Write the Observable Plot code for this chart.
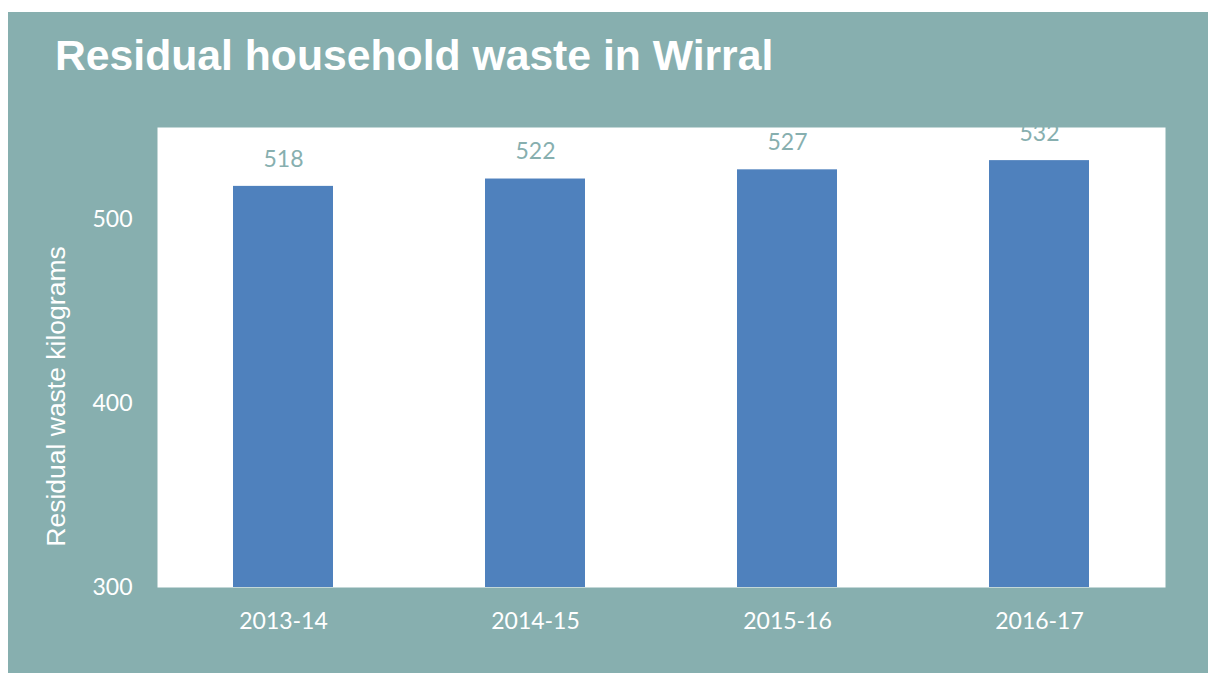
<!DOCTYPE html>
<html>
<head>
<meta charset="utf-8">
<script src="https://cdn.jsdelivr.net/npm/d3@7"></script>
<script src="https://cdn.jsdelivr.net/npm/@observablehq/plot@0.6"></script>
<style>
  html, body { margin: 0; padding: 0; background: #ffffff; }
  #panel { position: absolute; left: 8px; top: 12px; width: 1200px; height: 661px; background: #87afaf; overflow: hidden; }
  #title { position: absolute; left: 47px; top: 22px; font-family: "Liberation Sans", Arial, sans-serif; font-weight: bold; font-size: 42.7px; line-height: 43px; color: #ffffff; white-space: nowrap; }
  #chart { position: absolute; left: 0; top: 88px; }
</style>
</head>
<body>
<div id="panel">
  <div id="title">Residual household waste in Wirral</div>
  <div id="chart"></div>
</div>
<script>
const years = ["2013-14", "2014-15", "2015-16", "2016-17"];
const residualKg = [518, 522, 527, 532];
const yTicks = [300, 400, 500];
const yLabel = "Residual waste kilograms";

const data = years.map((year, i) => ({year, value: residualKg[i]}));

const chart = Plot.plot({
  width: 1200,
  height: 573,
  marginLeft: 149,
  marginRight: 43,
  marginTop: 27,
  marginBottom: 86,
  style: {background: "transparent", color: "#ffffff", fontFamily: "Lato, sans-serif", fontSize: "23px", overflow: "visible"},
  x: {domain: years, paddingInner: 0.603, paddingOuter: 0.3015, label: null},
  y: {domain: [300, 550], label: null},
  marks: [
    Plot.frame({fill: "#ffffff", stroke: null}),
    Plot.barY(data, {x: "year", y1: 300, y2: "value", fill: "#4f81bd"}),
    Plot.text(data, {x: "year", y: "value", text: d => String(d.value), dy: -27, lineAnchor: "middle", fill: "#87afaf", fontSize: 23, clip: "frame"}),
    Plot.axisX({tickSize: 0, tickPadding: 25, fontSize: 23, label: null}),
    Plot.axisY({ticks: yTicks, tickSize: 0, tickPadding: 25, fontSize: 23, label: null}),
    Plot.text([yLabel], {frameAnchor: "left", rotate: -90, dx: -101, dy: 39, lineAnchor: "middle", textAnchor: "middle", fill: "#ffffff", fontFamily: "Liberation Sans, Arial, sans-serif", fontSize: 26.5})
  ]
});
document.getElementById("chart").appendChild(chart);
</script>
</body>
</html>
